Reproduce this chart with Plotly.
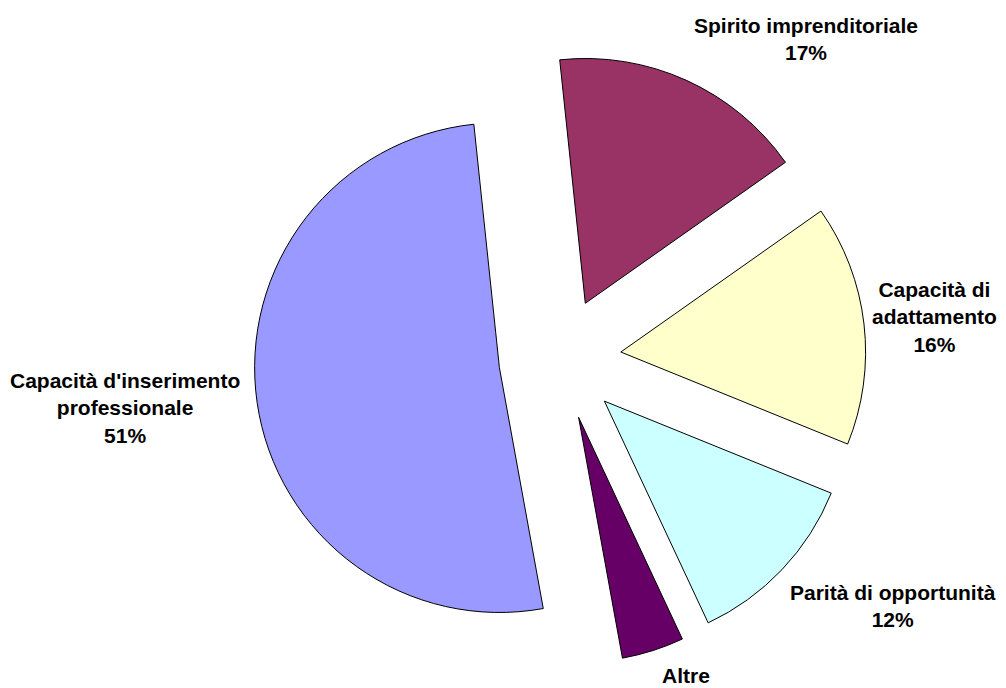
import plotly.graph_objects as go

# slices, clockwise from the top
labels = ["Spirito imprenditoriale", "Capacità di adattamento", "Parità di opportunità",
          "Altre", "Capacità d'inserimento professionale"]
label_text = ["Spirito imprenditoriale", "Capacità di<br>adattamento", "Parità di opportunità",
              "Altre", "Capacità d'inserimento<br>professionale"]
values = [16.9, 15.9, 11.9, 4.1, 51.2]
colors = ["#993366", "#FFFFCC", "#CCFFFF", "#660066", "#9999FF"]
show_pct = [True, True, True, False, True]

W, H = 1006, 688
OFF = 8  # the page body adds an 8px margin around the figure

# label anchor positions in page pixels (centre of each text block)
label_pos = [(806, 39), (934, 317), (893, 606), (686, 675), (125, 408)]

fig = go.Figure()
fig.add_trace(go.Pie(
    labels=labels,
    values=values,
    sort=False,
    direction="clockwise",
    rotation=-6,
    pull=0.25,
    textinfo="none",
    hoverinfo="skip",
    marker=dict(colors=colors, line=dict(color="black", width=1)),
    domain=dict(x=[(250 - OFF) / W, (870 - OFF) / W],
                y=[1 - (665 - OFF) / H, 1 - (53 - OFF) / H]),
    showlegend=False,
))

total = sum(values)
for txt, v, show, (px, py) in zip(label_text, values, show_pct, label_pos):
    t = txt
    if show:
        t += "<br>%d%%" % round(v / total * 100)
    fig.add_annotation(
        x=(px - OFF) / W, y=1 - (py - OFF) / H, xref="paper", yref="paper",
        text="<b>" + t + "</b>", showarrow=False,
        xanchor="center", yanchor="middle", align="center",
        font=dict(family="Arial, Liberation Sans, sans-serif", size=21, color="black"),
    )

fig.update_layout(
    width=W, height=H,
    margin=dict(l=0, r=0, t=0, b=0),
    paper_bgcolor="white",
    plot_bgcolor="white",
)

fig.write_html("out.html")
